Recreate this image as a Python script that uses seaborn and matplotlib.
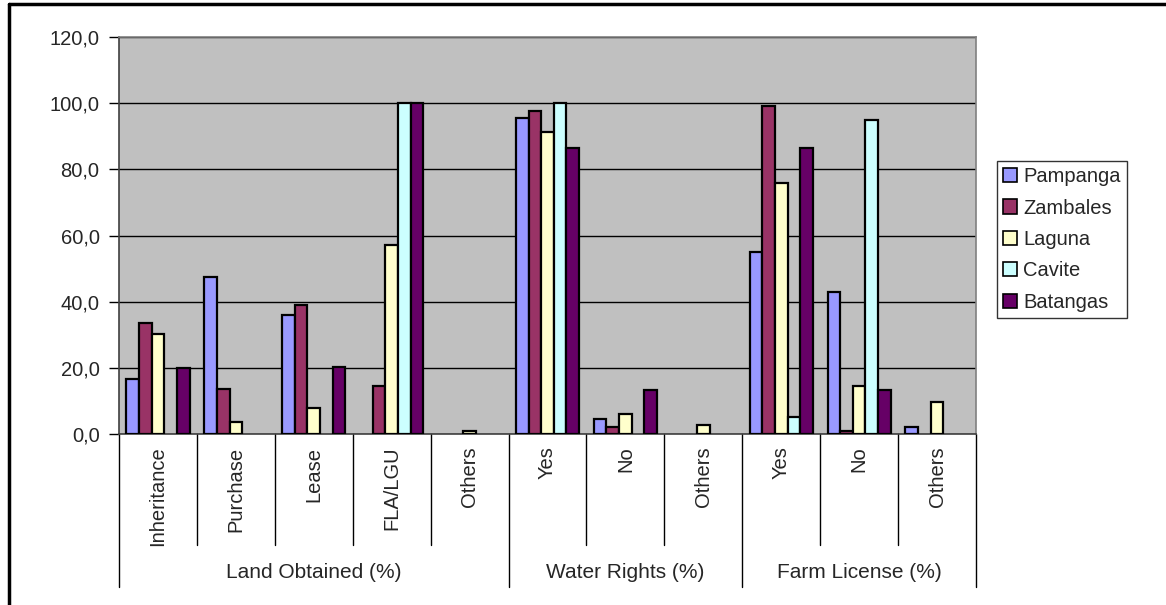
import numpy as np
import pandas as pd
import matplotlib
matplotlib.use("Agg")
import matplotlib.pyplot as plt
import seaborn as sns
from matplotlib.lines import Line2D
from matplotlib.patches import Patch
from matplotlib.ticker import FuncFormatter, MultipleLocator

# ---- data ----
categories = ["Inheritance", "Purchase", "Lease", "FLA/LGU", "Others",
              "Yes", "No", "Others",
              "Yes", "No", "Others"]
groups = ["Land Obtained (%)", "Water Rights (%)", "Farm License (%)"]
group_sizes = [5, 3, 3]
regions = ["Pampanga", "Zambales", "Laguna", "Cavite", "Batangas"]

pampanga = [16.7, 47.5, 35.9, 0.0, 0.0, 95.4, 4.4, 0.0, 54.9, 42.8, 2.1]
zambales = [33.5, 13.5, 39.1, 14.4, 0.0, 97.7, 2.1, 0.0, 99.2, 0.8, 0.0]
laguna = [30.2, 3.6, 8.0, 57.2, 0.8, 91.2, 6.0, 2.6, 75.8, 14.4, 9.7]
cavite = [0.0, 0.0, 0.0, 100.0, 0.0, 100.0, 0.0, 0.0, 5.0, 95.0, 0.0]
batangas = [20.0, 0.0, 20.4, 100.0, 0.0, 86.5, 13.3, 0.0, 86.5, 13.3, 0.0]

colors = ["#9999FF", "#993366", "#FFFFCC", "#CCFFFF", "#660066"]

series = [pampanga, zambales, laguna, cavite, batangas]
ids = [f"c{i}" for i in range(len(categories))]
rows = []
for reg, vals in zip(regions, series):
    for cid, v in zip(ids, vals):
        rows.append({"cat": cid, "region": reg, "value": v})
df = pd.DataFrame(rows)

# ---- figure ----
sns.set_theme(style="white")
plt.rcParams["font.family"] = ["Liberation Sans", "DejaVu Sans"]

fig = plt.figure(figsize=(11.66, 6.05), dpi=100)
W, H = 1166, 605
ax = fig.add_axes([119 / W, 1 - 434 / H, (976 - 119) / W, (434 - 37) / H])
ax.set_facecolor("#C0C0C0")

sns.barplot(data=df, x="cat", y="value", hue="region", order=ids,
            hue_order=regions, palette=colors, width=0.81,
            edgecolor="black", linewidth=1.6, saturation=1,
            ax=ax, zorder=3, legend=False)
for p in ax.patches:
    if p.get_height() == 0:
        p.set_visible(False)

ax.set_ylim(0, 120)
ax.set_xlim(-0.5, len(categories) - 0.5)
ax.yaxis.set_major_locator(MultipleLocator(20))
ax.yaxis.set_major_formatter(FuncFormatter(lambda v, p: f"{v:.1f}".replace(".", ",")))
ax.grid(axis="y", color="black", linewidth=1, zorder=0)
ax.set_axisbelow(True)
ax.set_xlabel("")
ax.set_ylabel("")
ax.tick_params(axis="y", left=True, length=7, width=1, color="black",
               labelsize=14.5, pad=7)
ax.set_xticks(range(len(categories)))
ax.set_xticklabels(categories, rotation=90, fontsize=14.5)
ax.tick_params(axis="x", bottom=False, length=0, pad=9)
for s in ["top", "right"]:
    ax.spines[s].set_color("#808080")
    ax.spines[s].set_linewidth(1.2)
for s in ["left", "bottom"]:
    ax.spines[s].set_color("#404040")
    ax.spines[s].set_linewidth(1.2)

# category separators and group labels below axis
tr = ax.get_xaxis_transform()
ax_h = 434 - 37
y_inner = -(545 - 434) / ax_h
y_group = -(587 - 434) / ax_h
y_glabel = -(572 - 434) / ax_h
bounds = [-0.5]
for gs in group_sizes:
    bounds.append(bounds[-1] + gs)
for i in range(len(categories) + 1):
    xb = i - 0.5
    ybot = y_group if xb in bounds else y_inner
    ax.add_line(Line2D([xb, xb], [0, ybot], transform=tr, color="black",
                       linewidth=1, clip_on=False))
for g, a, b in zip(groups, bounds[:-1], bounds[1:]):
    ax.text((a + b) / 2, y_glabel, g, transform=tr, ha="center",
            va="center", fontsize=15)

# legend
handles = [Patch(facecolor=c, edgecolor="black", linewidth=1.2, label=r)
           for c, r in zip(colors, regions)]
leg = fig.legend(handles=handles, loc="upper left",
                 bbox_to_anchor=(997 / W, 1 - 161 / H), bbox_transform=fig.transFigure,
                 fontsize=14.5, frameon=True, fancybox=False, edgecolor="black",
                 handlelength=0.7, handleheight=0.7, handletextpad=0.3,
                 labelspacing=0.62, borderpad=0.3, borderaxespad=0)
leg.get_frame().set_linewidth(1)

# outer chart frame (left and top edges visible)
fig.add_artist(Line2D([9 / W, 9 / W], [0, 1 - 4 / H], transform=fig.transFigure,
                      color="black", linewidth=2.5))
fig.add_artist(Line2D([9 / W, 1], [1 - 4 / H, 1 - 4 / H], transform=fig.transFigure,
                      color="black", linewidth=2.5))

fig.savefig("out.png", dpi=100, facecolor="white")
